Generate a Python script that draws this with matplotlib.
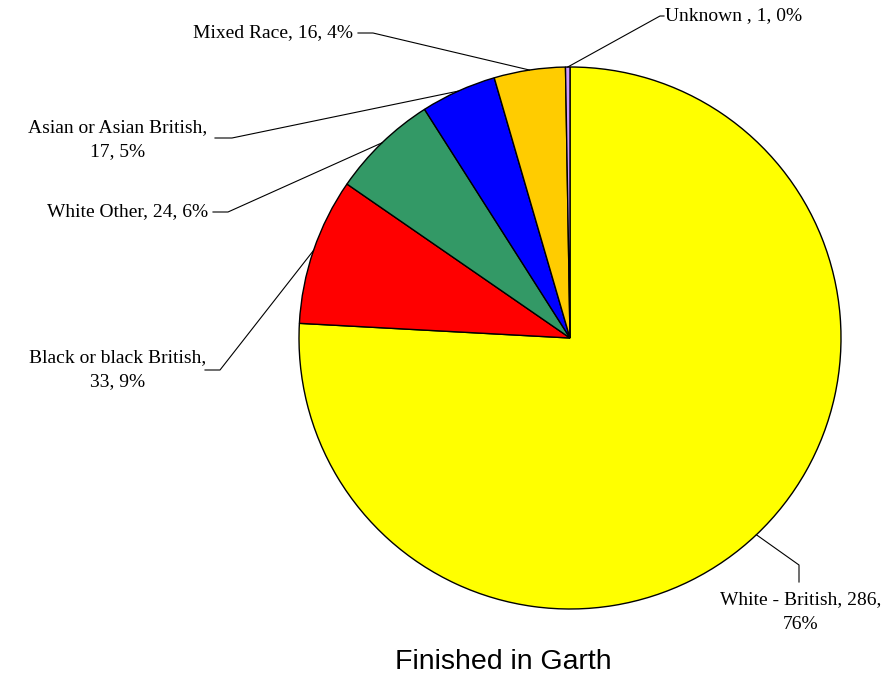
import numpy as np
import matplotlib
matplotlib.use("Agg")
import matplotlib.pyplot as plt

categories = ["White - British", "Black or black British", "White Other",
              "Asian or Asian British", "Mixed Race", "Unknown "]
values = [286, 33, 24, 17, 16, 1]
colors = ["#FFFF00", "#FF0000", "#339966", "#0000FF", "#FFCC00", "#CC99FF"]
title = "Finished in Garth"

W, H = 893, 676
fig = plt.figure(figsize=(W / 100, H / 100), dpi=100)
ax = fig.add_axes([0, 0, 1, 1])

cx, cy, R = 570, H - 338, 271
wedges, _ = ax.pie(values, colors=colors, startangle=90, counterclock=False,
                   center=(cx, cy), radius=R, frame=True,
                   wedgeprops=dict(edgecolor="black", linewidth=1.0))
ax.set_xlim(0, W)
ax.set_ylim(0, H)
ax.set_aspect("equal")
ax.axis("off")

total = sum(values)
def pct(v):
    return round(100 * v / total)

serif = dict(family="Liberation Serif", fontsize=14, color="black")
layout = {
    0: dict(text=f"{categories[0]}, {values[0]},\n{pct(values[0])}%",
            xy=(801, 612), ha="center", path=[(799, 565), (799, 582)]),
    1: dict(text=f"{categories[1]},\n{values[1]}, {pct(values[1])}%",
            xy=(118, 370), ha="center", path=[(220, 370), (205, 370)]),
    2: dict(text=f"{categories[2]}, {values[2]}, {pct(values[2])}%",
            xy=(208, 212), ha="right", path=[(228, 212), (213, 212)]),
    3: dict(text=f"{categories[3]},\n{values[3]}, {pct(values[3])}%",
            xy=(118, 140), ha="center", path=[(232, 138), (215, 138)]),
    4: dict(text=f"{categories[4]}, {values[4]}, {pct(values[4])}%",
            xy=(353, 33), ha="right", path=[(373, 33), (358, 33)]),
    5: dict(text=f"{categories[5]}, {values[5]}, {pct(values[5])}%",
            xy=(665, 16), ha="left", path=[(660, 16), (664, 16)]),
}

for i, w in enumerate(wedges):
    mid = np.deg2rad((w.theta1 + w.theta2) / 2)
    ex, ey = cx + R * np.cos(mid), cy + R * np.sin(mid)
    L = layout[i]
    pts = [(ex, ey)] + [(px, H - py) for px, py in L["path"]]
    xs, ys = zip(*pts)
    ax.plot(xs, ys, color="black", linewidth=0.8)
    tx, ty = L["xy"]
    ax.text(tx, H - ty, L["text"], ha=L["ha"], va="center",
            linespacing=1.55, multialignment="center", **serif)

ax.text(503, H - 669, title, ha="center", va="baseline",
        family="Liberation Sans", fontsize=20.5)

fig.savefig("out.png", dpi=100)
